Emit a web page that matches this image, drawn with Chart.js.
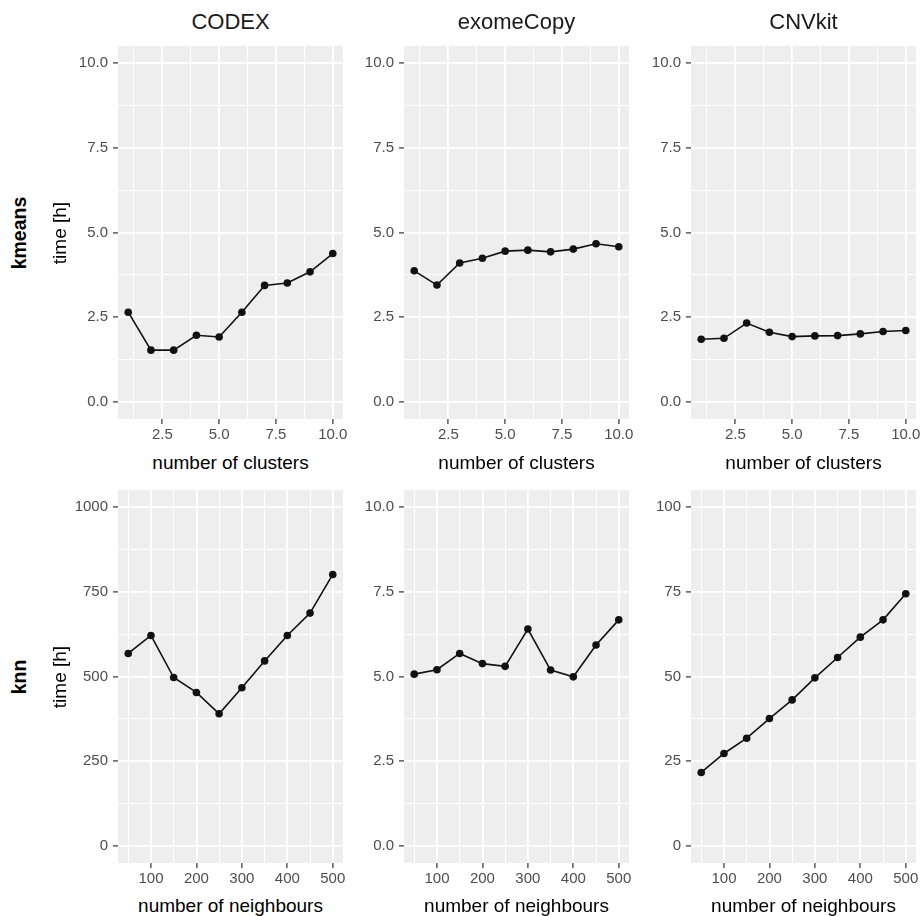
<!DOCTYPE html>
<html>
<head>
<meta charset="utf-8">
<script src="https://cdn.jsdelivr.net/npm/chart.js@4"></script>
<style>
  body { margin: 0; background: #fff; font-family: 'Liberation Sans', Arial, sans-serif; }
  #page { position: relative; width: 923px; height: 916px; overflow: hidden; }
  .lbl { position: absolute; line-height: 1; white-space: nowrap; transform: translate(-50%, -50%); }
  .rot { transform: translate(-50%, -50%) rotate(-90deg); }
  canvas { position: absolute; }
</style>
</head>
<body>
<div id="page"></div>
<script>
// data
const methods = ['CODEX', 'exomeCopy', 'CNVkit'];
const algorithms = ['kmeans', 'knn'];
const clusters = [1, 2, 3, 4, 5, 6, 7, 8, 9, 10];
const neighbours = [50, 100, 150, 200, 250, 300, 350, 400, 450, 500];

const codexKmeans = [2.65, 1.53, 1.53, 1.97, 1.92, 2.65, 3.44, 3.51, 3.84, 4.38];
const exomeCopyKmeans = [3.87, 3.45, 4.10, 4.24, 4.45, 4.48, 4.43, 4.51, 4.67, 4.58];
const cnvkitKmeans = [1.85, 1.88, 2.33, 2.06, 1.93, 1.95, 1.96, 2.01, 2.08, 2.11];

const codexKnn = [568, 621, 497, 453, 390, 467, 546, 621, 687, 801];
const exomeCopyKnn = [5.07, 5.20, 5.68, 5.38, 5.30, 6.40, 5.19, 4.99, 5.93, 6.67];
const cnvkitKnn = [21.7, 27.3, 31.8, 37.6, 43.1, 49.6, 55.6, 61.6, 66.7, 74.4];

const clusterTicks = [2.5, 5, 7.5, 10];
const neighbourTicks = [100, 200, 300, 400, 500];
const hourTicks = [0, 2.5, 5, 7.5, 10];
const codexKnnTicks = [0, 250, 500, 750, 1000];
const cnvkitKnnTicks = [0, 25, 50, 75, 100];

const xTitles = ['number of clusters', 'number of neighbours'];
const yTitle = 'time [h]';

Chart.defaults.font.family = "'Liberation Sans', Arial, sans-serif";

const colLeft = [118, 404, 691];
const rowTop = [46, 490];
const panelW = 225, panelH = 373;
const yAxisW = 60, xAxisH = 30, padRight = 12;

const page = document.getElementById('page');

function addLabel(text, cx, cy, style, rotate) {
    const d = document.createElement('div');
    d.className = 'lbl' + (rotate ? ' rot' : '');
    d.textContent = text;
    d.style.left = cx + 'px';
    d.style.top = cy + 'px';
    Object.assign(d.style, style);
    page.appendChild(d);
}

// minor breaks sit halfway between the majors (ggplot style)
function withMinors(majors, lo, hi) {
    const step = majors[1] - majors[0];
    const all = [];
    for (let v = majors[0] - step / 2; v <= hi; v += step / 2) {
        if (v >= lo) all.push(+v.toFixed(4));
    }
    return all;
}

function isMajor(majors, v) {
    return majors.some(m => Math.abs(m - v) < 1e-6);
}

function axisOpts(majors, min, max, decimals, isX) {
    return {
        type: 'linear',
        min: min,
        max: max,
        afterBuildTicks: scale => {
            scale.ticks = withMinors(majors, min, max).map(v => ({ value: v }));
        },
        afterFit: scale => {
            if (isX) scale.height = xAxisH; else scale.width = yAxisW;
            // keep the panel where ggplot puts it, labels may overhang
            scale.paddingTop = 0;
            scale.paddingBottom = 0;
            scale.paddingLeft = 0;
            scale.paddingRight = 0;
        },
        border: { display: false },
        grid: {
            color: '#ffffff',
            lineWidth: ctx => (ctx.tick && isMajor(majors, ctx.tick.value)) ? 1.8 : 0.9,
            drawTicks: true,
            tickLength: 5,
            tickWidth: 1.2,
            tickColor: ctx => (ctx.tick && isMajor(majors, ctx.tick.value)) ? '#333333' : 'rgba(0,0,0,0)'
        },
        ticks: {
            autoSkip: false,
            maxRotation: 0,
            minRotation: 0,
            padding: isX ? 2 : 5,
            color: '#4d4d4d',
            font: { size: 15 },
            callback: v => isMajor(majors, v) ? v.toFixed(decimals) : ''
        }
    };
}

const panelBg = {
    id: 'panelBg',
    beforeDraw(chart) {
        const a = chart.chartArea;
        chart.ctx.save();
        chart.ctx.fillStyle = '#eeeeee';
        chart.ctx.fillRect(a.left, a.top, a.right - a.left, a.bottom - a.top);
        chart.ctx.restore();
    }
};

function drawPanel(row, col, xs, ys, xMajors, xMin, xMax, xDec, yMajors, yMin, yMax, yDec) {
    const c = document.createElement('canvas');
    c.width = yAxisW + panelW + padRight;
    c.height = panelH + xAxisH;
    c.style.left = (colLeft[col] - yAxisW) + 'px';
    c.style.top = rowTop[row] + 'px';
    page.appendChild(c);

    new Chart(c.getContext('2d'), {
        type: 'line',
        data: {
            datasets: [{
                data: xs.map((x, i) => ({ x: x, y: ys[i] })),
                borderColor: '#111111',
                borderWidth: 1.6,
                pointRadius: 3.8,
                pointBackgroundColor: '#111111',
                pointBorderWidth: 0,
                tension: 0,
                clip: false
            }]
        },
        options: {
            responsive: false,
            animation: false,
            devicePixelRatio: 1,
            layout: { autoPadding: false, padding: { top: 0, right: padRight, bottom: 0, left: 0 } },
            plugins: { legend: { display: false }, tooltip: { enabled: false } },
            scales: {
                x: axisOpts(xMajors, xMin, xMax, xDec, true),
                y: axisOpts(yMajors, yMin, yMax, yDec, false)
            }
        },
        plugins: [panelBg]
    });
}

// top row: kmeans
drawPanel(0, 0, clusters, codexKmeans, clusterTicks, 0.55, 10.45, 1, hourTicks, -0.5, 10.5, 1);
drawPanel(0, 1, clusters, exomeCopyKmeans, clusterTicks, 0.55, 10.45, 1, hourTicks, -0.5, 10.5, 1);
drawPanel(0, 2, clusters, cnvkitKmeans, clusterTicks, 0.55, 10.45, 1, hourTicks, -0.5, 10.5, 1);
// bottom row: knn
drawPanel(1, 0, neighbours, codexKnn, neighbourTicks, 27.5, 522.5, 0, codexKnnTicks, -50, 1050, 0);
drawPanel(1, 1, neighbours, exomeCopyKnn, neighbourTicks, 27.5, 522.5, 0, hourTicks, -0.5, 10.5, 1);
drawPanel(1, 2, neighbours, cnvkitKnn, neighbourTicks, 27.5, 522.5, 0, cnvkitKnnTicks, -5, 105, 0);

// strip titles, axis titles, row labels
methods.forEach((m, i) => {
    const cx = colLeft[i] + panelW / 2;
    addLabel(m, cx, 22, { fontSize: '22px', color: '#1a1a1a' });
    addLabel(xTitles[0], cx, rowTop[0] + panelH + 43, { fontSize: '19px', color: '#000' });
    addLabel(xTitles[1], cx, rowTop[1] + panelH + 42, { fontSize: '19px', color: '#000' });
});
algorithms.forEach((a, r) => {
    const cy = rowTop[r] + panelH / 2;
    addLabel(a, 20, cy, { fontSize: '19.5px', fontWeight: 'bold', color: '#000' }, true);
    addLabel(yTitle, 59, cy, { fontSize: '19px', color: '#000' }, true);
});
</script>
</body>
</html>
